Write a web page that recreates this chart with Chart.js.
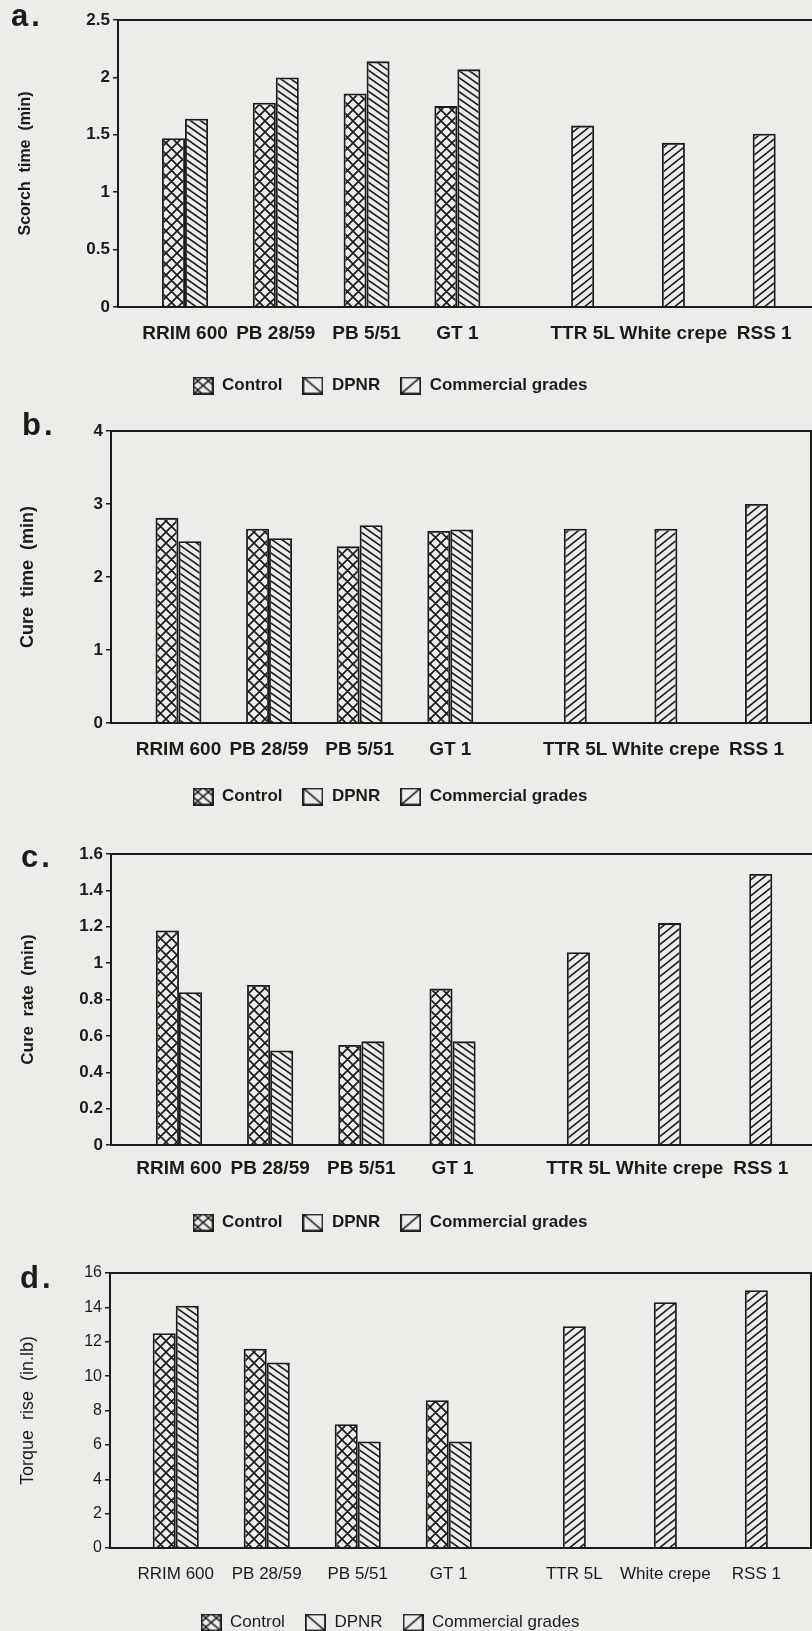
<!DOCTYPE html>
<html>
<head>
<meta charset="utf-8">
<title>Scorch time, cure time, cure rate and torque rise</title>
<script src="https://cdn.jsdelivr.net/npm/chart.js@4.4.1/dist/chart.umd.min.js"></script>
<style>
  html, body { margin: 0; padding: 0; }
  body { width: 812px; height: 1631px; overflow: hidden; position: relative; background: #edece9;
         font-family: 'Liberation Sans', Arial, sans-serif; }
  canvas { position: absolute; left: -32px; }
  .tag { position: absolute; font-weight: bold; font-size: 31px; line-height: 1; color: #1b1b1b; letter-spacing: 3px; }
</style>
</head>
<body>
<script>
// categorias (clones e graus comerciais)
const groups = ['RRIM 600', 'PB 28/59', 'PB 5/51', 'GT 1', 'TTR 5L', 'White crepe', 'RSS 1'];
const seriesNames = ['Control', 'DPNR', 'Commercial grades'];

// a. Scorch time (min)
const scorchControl    = [1.47, 1.78, 1.86, 1.75, null, null, null];
const scorchDpnr       = [1.64, 2.00, 2.14, 2.07, null, null, null];
const scorchCommercial = [null, null, null, null, 1.58, 1.43, 1.51];
const scorchTicks = [0, 0.5, 1, 1.5, 2, 2.5];

// b. Cure time (min)
const cureTimeControl    = [2.81, 2.66, 2.42, 2.63, null, null, null];
const cureTimeDpnr       = [2.49, 2.53, 2.71, 2.65, null, null, null];
const cureTimeCommercial = [null, null, null, null, 2.66, 2.66, 3.00];
const cureTimeTicks = [0, 1, 2, 3, 4];

// c. Cure rate (min)
const cureRateControl    = [1.18, 0.88, 0.55, 0.86, null, null, null];
const cureRateDpnr       = [0.84, 0.52, 0.57, 0.57, null, null, null];
const cureRateCommercial = [null, null, null, null, 1.06, 1.22, 1.49];
const cureRateTicks = [0, 0.2, 0.4, 0.6, 0.8, 1, 1.2, 1.4, 1.6];

// d. Torque rise (in.lb)
const torqueControl    = [12.5, 11.6, 7.2, 8.6, null, null, null];
const torqueDpnr       = [14.1, 10.8, 6.2, 6.2, null, null, null];
const torqueCommercial = [null, null, null, null, 12.9, 14.3, 15.0];
const torqueTicks = [0, 2, 4, 6, 8, 10, 12, 14, 16];

const INK = '#1b1b1b';
const CAT_PCT = 0.76;
const hatchKinds = ['cross', 'back', 'fwd'];

Chart.defaults.font.family = "'Liberation Sans', Arial, sans-serif";
Chart.defaults.color = INK;

// layout de cada painel
const panels = [
  { tag: 'a.', tagLeft: 11, tagTop: 0, top: 0, height: 404, axisW: 150, xMin: -0.865, xMax: 6.78,
    xAxisH: 50, labelPad: 7, title: 'Scorch  time  (min)', titleSize: 16, titleX: 58,
    series: [scorchControl, scorchDpnr, scorchCommercial], yTicks: scorchTicks, bold: true, rightBorder: false },
  { tag: 'b.', tagLeft: 22, tagTop: 409, top: 411, height: 404, axisW: 143, xMin: -0.871, xMax: 6.866,
    xAxisH: 45, labelPad: 7.5, title: 'Cure  time  (min)', titleSize: 18, titleX: 60,
    series: [cureTimeControl, cureTimeDpnr, cureTimeCommercial], yTicks: cureTimeTicks, bold: true, rightBorder: true },
  { tag: 'c.', tagLeft: 21, tagTop: 841, top: 834, height: 407, axisW: 143, xMin: -0.872, xMax: 6.815,
    xAxisH: 49, labelPad: 4, title: 'Cure  rate  (min)', titleSize: 17, titleX: 60,
    series: [cureRateControl, cureRateDpnr, cureRateCommercial], yTicks: cureRateTicks, bold: true, rightBorder: false },
  { tag: 'd.', tagLeft: 20, tagTop: 1262, top: 1253, height: 388, axisW: 142, xMin: -0.849, xMax: 6.865,
    xAxisH: 46, labelPad: 8, title: 'Torque  rise  (in.lb)', titleSize: 18, titleX: 60,
    series: [torqueControl, torqueDpnr, torqueCommercial], yTicks: torqueTicks, bold: false, rightBorder: true }
];

// linhas de hachura
function drawHatch(ctx, kind, w, h, lw) {
  ctx.strokeStyle = INK;
  ctx.lineWidth = lw;
  ctx.beginPath();
  for (let k = -1; k <= 2; k++) {
    if (kind === 'cross' || kind === 'back') {
      ctx.moveTo(-w, (k - 1) * h); ctx.lineTo(2 * w, (k + 2) * h);
    }
    if (kind === 'cross' || kind === 'fwd') {
      ctx.moveTo(-w, (k + 1) * h); ctx.lineTo(2 * w, (k - 2) * h);
    }
  }
  ctx.stroke();
}

function makePattern(ctx, kind) {
  const size = { cross: [11, 11], back: [10, 7], fwd: [10, 8] }[kind];
  const tile = document.createElement('canvas');
  tile.width = size[0]; tile.height = size[1];
  drawHatch(tile.getContext('2d'), kind, size[0], size[1], kind === 'cross' ? 1.7 : 1.6);
  return ctx.createPattern(tile, 'repeat');
}

function makeSwatch(kind) {
  const c = document.createElement('canvas');
  c.width = 21; c.height = 18;
  const g = c.getContext('2d');
  if (kind === 'cross') drawHatch(g, kind, 10.5, 9, 1.5);
  else drawHatch(g, kind, 21, 18, 1.6);
  g.lineWidth = 1.8;
  g.strokeRect(0.9, 0.9, 19.2, 16.2);
  return c;
}
const swatches = hatchKinds.map(makeSwatch);

// posição do rótulo = centro das barras desenhadas do grupo
function labelPositions(seriesList) {
  return groups.map((g, i) => {
    const slots = [];
    seriesList.forEach((s, k) => { if (s[i] !== null) slots.push(k); });
    const mean = slots.reduce((a, b) => a + b, 0) / slots.length;
    return i + (mean - 1) * CAT_PCT / 3;
  });
}

const framePlugin = {
  id: 'frame',
  afterDatasetsDraw(chart, args, opts) {
    const { ctx, chartArea: a } = chart;
    ctx.save();
    ctx.strokeStyle = INK;
    ctx.lineWidth = 2;
    ctx.beginPath();
    ctx.moveTo(a.left, a.top); ctx.lineTo(a.right, a.top);
    if (opts.right) { ctx.moveTo(a.right - 1, a.top); ctx.lineTo(a.right - 1, a.bottom); }
    ctx.stroke();
    ctx.restore();
  }
};

panels.forEach(p => {
  const canvas = document.createElement('canvas');
  canvas.width = 844; canvas.height = p.height;
  canvas.style.top = p.top + 'px';
  document.body.appendChild(canvas);

  const tag = document.createElement('div');
  tag.className = 'tag';
  tag.textContent = p.tag;
  tag.style.left = p.tagLeft + 'px';
  tag.style.top = p.tagTop + 'px';
  document.body.appendChild(tag);

  const ctx = canvas.getContext('2d');
  const weight = p.bold ? 'bold' : 'normal';
  const ticksAt = labelPositions(p.series);

  new Chart(ctx, {
    type: 'bar',
    data: {
      datasets: p.series.map((values, k) => ({
        label: seriesNames[k],
        data: values.map((v, i) => ({ x: i, y: v })),
        backgroundColor: makePattern(ctx, hatchKinds[k]),
        borderColor: INK,
        borderWidth: 1.8,
        categoryPercentage: CAT_PCT,
        barPercentage: 1
      }))
    },
    options: {
      responsive: false,
      animation: false,
      devicePixelRatio: 1,
      events: [],
      layout: { padding: { top: 20, left: 0, right: 0, bottom: 0 } },
      scales: {
        x: {
          type: 'linear',
          min: p.xMin,
          max: p.xMax,
          offset: false,
          z: 1,
          grid: { display: false },
          border: { display: true, color: INK, width: 2 },
          afterBuildTicks: s => { s.ticks = ticksAt.map(v => ({ value: v })); },
          afterFit: s => { s.height = p.xAxisH; },
          ticks: {
            autoSkip: false, maxRotation: 0, padding: p.labelPad, color: INK,
            font: { size: p.bold ? 19 : 17, weight: weight },
            callback: (v, i) => groups[i]
          }
        },
        y: {
          min: p.yTicks[0],
          max: p.yTicks[p.yTicks.length - 1],
          afterBuildTicks: s => { s.ticks = p.yTicks.map(v => ({ value: v })); },
          afterFit: s => { s.width = p.axisW; },
          grid: { drawOnChartArea: false, tickLength: 5, color: INK, lineWidth: 1.5 },
          border: { display: true, color: INK, width: 2 },
          ticks: {
            padding: 3, color: INK,
            font: { size: p.bold ? 17 : 16, weight: weight },
            callback: v => String(v)
          },
          title: {
            display: true, text: p.title, color: INK,
            font: { size: p.titleSize, weight: weight },
            padding: { top: p.titleX - p.titleSize * 0.6, bottom: 0 }
          }
        }
      },
      plugins: {
        tooltip: { enabled: false },
        frame: { right: p.rightBorder },
        legend: {
          position: 'bottom',
          labels: {
            usePointStyle: true,
            pointStyleWidth: 21,
            padding: 20,
            color: INK,
            font: { size: 17, weight: weight },
            generateLabels: chart => {
              const items = Chart.defaults.plugins.legend.labels.generateLabels(chart);
              items.forEach((it, i) => { it.pointStyle = swatches[i]; });
              return items;
            }
          }
        }
      }
    },
    plugins: [framePlugin]
  });
});
</script>
</body>
</html>
